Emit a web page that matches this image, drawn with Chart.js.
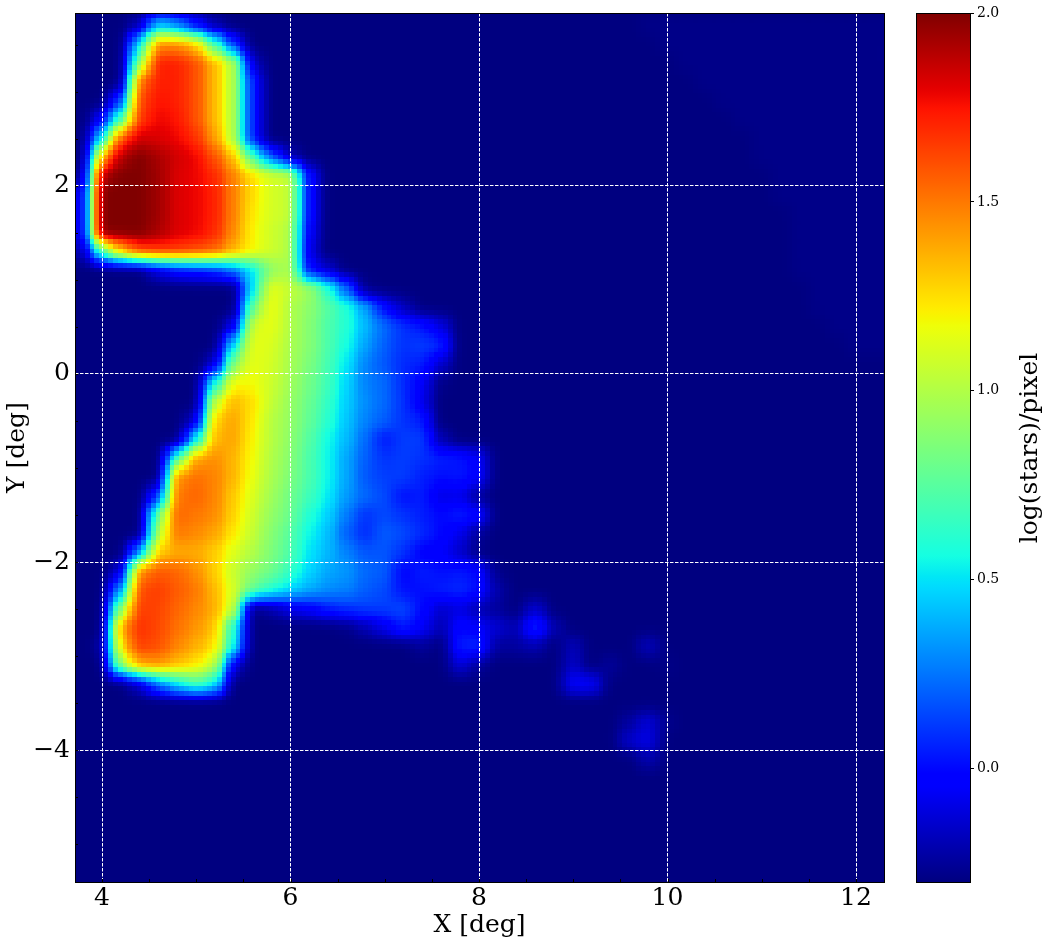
<!DOCTYPE html>
<html>
<head>
<meta charset="utf-8">
<style>
  body { margin: 0; background: #fff; }
  canvas { position: absolute; top: 0; }
</style>
<script src="https://cdn.jsdelivr.net/npm/chart.js@4"></script>
</head>
<body>
<canvas id="map" width="900" height="943" style="left:0"></canvas>
<canvas id="bar" width="148" height="943" style="left:900px"></canvas>
<script>
/* star density map + colorbar */

const xTicks = [4, 6, 8, 10, 12]
const yTicks = [2, 0, -2, -4]
const barTicks = [2.0, 1.5, 1.0, 0.5, 0.0]
const minorStep = 0.5

const vMin = -0.3
const vMax = 2.0

// cell centres: X = 3.8 + 0.2*col, Y = 3.7 - 0.2*row
const colCount = 43
const rowCount = 46

// log(stars)/pixel x 100. Columns not listed are background.
const logGrid = [
  [-30,-30,-30,-20,45,30,0,-22],
  [-30,-30,-30,50,145,145,130,70,10],
  [-30,-30,-30,90,172,172,160,135,100,-15],
  [-30,-30,-30,150,172,172,160,135,100,5],
  [-30,-30,10,160,175,172,160,135,100,5],
  [-30,-5,70,165,178,175,160,135,100,5],
  [-30,50,160,185,182,178,168,142,100,5],
  [-30,135,190,200,192,184,178,160,132,72,20,-20],
  [-25,190,205,205,194,182,178,170,148,125,110,105,0],
  [-8,200,205,205,194,182,178,172,148,125,110,105,0],
  [-8,205,205,205,194,182,178,172,148,122,110,105,0],
  [-8,200,200,200,192,182,178,170,145,120,108,100,-5],
  [-20,70,130,160,165,165,160,155,135,120,108,100,-10],
  [-30,-30,-30,-30,-10,0,5,10,25,50,90,100,0,-15],
  [-30,-30,-30,-30,-30,-30,-30,-30,-30,50,115,105,95,62,20,-28],
  [-30,-30,-30,-30,-30,-30,-30,-30,-30,80,118,100,90,75,60,35,0,-18],
  [-30,-30,-30,-30,-30,-30,-30,-30,-10,110,115,100,88,72,60,40,22,10,3,-10],
  [-30,-30,-30,-30,-30,-30,-30,-30,50,115,112,98,88,72,57,35,20,10,12,8],
  [-30,-30,-30,-30,-30,-30,-30,-15,90,115,110,97,85,70,50,28,18,8,5,-15],
  [-30,-30,-30,-30,-30,-30,-30,55,118,118,108,95,83,68,47,28,22,8,-5,-28],
  [-30,-30,-30,-30,-30,-30,-30,105,135,125,105,93,80,65,45,30,22,10,-8],
  [-30,-30,-30,-30,-30,-30,-15,130,140,122,102,92,78,62,43,28,20,10,5],
  [-30,-30,-30,-30,-30,-30,50,135,140,120,102,90,75,56,40,22,3,12,12,-20],
  [-30,-30,-30,-30,-30,70,140,145,135,118,100,88,72,55,36,20,10,12,10,5,3,-5],
  [-30,-30,-30,-30,-30,145,152,148,135,115,98,85,72,55,36,18,12,12,5,2,3,-3],
  [-30,-30,-30,-30,10,150,155,148,130,112,95,82,68,52,33,22,15,2,5,-10,-8,-25],
  [-30,-30,-30,-30,80,155,150,146,128,108,92,80,60,47,26,10,15,10,5,0,5,0],
  [-30,-30,-30,-30,100,150,146,140,122,105,88,75,55,42,20,8,20,15,8,0,-8,-25],
  [-30,-30,-30,30,130,138,138,130,112,100,85,72,50,40,28,18,18,10,-3,-5,-15,-28],
  [-30,-30,-15,145,158,155,145,130,105,92,82,65,48,37,33,22,20,-2,5,2,3,0,-28],
  [-30,-30,30,160,165,158,150,135,110,78,60,48,38,30,28,20,15,2,2,5,8,2,-22],
  [-30,-30,90,165,163,155,147,138,105,-30,-22,-10,-5,5,10,12,12,15,0,-15,-10,-20,-25,-30,-14],
  [-30,-30,140,168,162,152,143,132,60,-30,-30,-30,-30,-30,-28,-20,-8,5,-5,-20,0,-5,-14,-20,10,-20],
  [-30,-25,125,165,160,148,137,125,55,-30,-30,-30,-30,-30,-30,-30,-30,-30,-25,-30,5,8,-25,-24,-20],
  [-30,-30,90,138,142,132,122,105,-10,-30,-30,-30,-30,-30,-30,-30,-30,-30,-30,-30,-12,-25],
  [-30,-30,-30,-15,25,50,70,55],
  [], [], [], [], [], [], [], [], [], []
]

// faint patches lower right
const faintX = [9.0, 9.8, 9.0, 9.0, 9.2, 9.4, 10.0, 9.6, 9.8, 9.6, 9.8, 10.0, 9.8]
const faintY = [-2.9, -2.9, -3.1, -3.3, -3.3, -3.1, -3.1, -3.7, -3.7, -3.9, -3.9, -3.7, -4.1]
const faintV = [-18, -17, -16, -4, -4, -25, -28, -24, -12, -15, -9, -27, -20]

// first column of the slightly lighter region, top right, one entry per row
const lightStart = [30,31,32,33,34,35,36,36,37,37,38,38,38,38,39,39,40,41]
const lightValue = -28

const blurSigma = 6.5      // px
const blockDeg = 0.05      // the image is pixelated at this size

const serif = '"DejaVu Serif", serif'

// matplotlib jet
const jetR = [[0,0],[.35,0],[.66,1],[.89,1],[1,.5]]
const jetG = [[0,0],[.125,0],[.375,1],[.64,1],[.91,0],[1,0]]
const jetB = [[0,.5],[.11,1],[.34,1],[.65,0],[1,0]]
function seg(s, t) {
  for (let i = 1; i < s.length; i++) {
    if (t <= s[i][0]) return s[i-1][1] + (s[i][1]-s[i-1][1]) * (t-s[i-1][0]) / (s[i][0]-s[i-1][0])
  }
  return s[s.length-1][1]
}
const jet = t => [seg(jetR,t), seg(jetG,t), seg(jetB,t)].map(c => Math.round(c*255))

function cellValue(r, c) {
  const row = logGrid[r] || []
  if (row[c] !== undefined) return row[c]
  if (r < lightStart.length && c >= lightStart[r]) return lightValue
  return -30
}

const cells = []
for (let r = 0; r < rowCount; r++) {
  for (let c = 0; c < colCount; c++) {
    cells.push({ x: 3.8 + 0.2*c, y: 3.7 - 0.2*r, v: cellValue(r, c) / 100 })
  }
}
faintX.forEach((x, i) => {
  const c = Math.round((x - 3.8) / 0.2)
  const r = Math.round((3.7 - faintY[i]) / 0.2)
  cells[r*colCount + c].v = faintV[i] / 100
})

// cells are painted as grey levels, then the plugin smooths and colours them like imshow does
function grey(v) {
  const g = Math.round((v - vMin) / (vMax - vMin) * 255)
  return `rgb(${g},${g},${g})`
}

const imshowPlugin = {
  id: 'imshow',
  afterDatasetsDraw(chart) {
    const a = chart.chartArea
    const L = Math.round(a.left), T = Math.round(a.top)
    const W = Math.round(a.right - a.left), H = Math.round(a.bottom - a.top)
    const img = chart.ctx.getImageData(L, T, W, H)
    const src = new Float32Array(W*H)
    for (let i = 0; i < W*H; i++) src[i] = img.data[i*4]

    const rad = Math.ceil(blurSigma*3)
    const kern = []
    let sum = 0
    for (let k = -rad; k <= rad; k++) { const w = Math.exp(-k*k/(2*blurSigma*blurSigma)); kern.push(w); sum += w }
    const clamp = (n, m) => n < 0 ? 0 : n >= m ? m-1 : n
    const tmp = new Float32Array(W*H)
    for (let y = 0; y < H; y++) for (let x = 0; x < W; x++) {
      let s = 0
      for (let k = -rad; k <= rad; k++) s += kern[k+rad] * src[y*W + clamp(x+k, W)]
      tmp[y*W+x] = s/sum
    }
    const out = new Float32Array(W*H)
    for (let y = 0; y < H; y++) for (let x = 0; x < W; x++) {
      let s = 0
      for (let k = -rad; k <= rad; k++) s += kern[k+rad] * tmp[clamp(y+k, H)*W + x]
      out[y*W+x] = s/sum
    }

    const sx = chart.scales.x, sy = chart.scales.y
    const bw = Math.abs(sx.getPixelForValue(blockDeg) - sx.getPixelForValue(0))
    const bh = Math.abs(sy.getPixelForValue(blockDeg) - sy.getPixelForValue(0))
    for (let y = 0; y < H; y++) {
      const py = clamp(Math.floor((Math.floor(y/bh) + .5) * bh), H)
      for (let x = 0; x < W; x++) {
        const px = clamp(Math.floor((Math.floor(x/bw) + .5) * bw), W)
        const col = jet(Math.min(1, out[py*W+px]/255))
        const i = (y*W+x)*4
        img.data[i] = col[0]; img.data[i+1] = col[1]; img.data[i+2] = col[2]; img.data[i+3] = 255
      }
    }
    chart.ctx.putImageData(img, L, T)
  }
}

const framePlugin = {
  id: 'frame',
  afterDraw(chart) {
    const { ctx, chartArea: a, scales } = chart
    ctx.save()
    ctx.strokeStyle = '#000'
    ctx.lineWidth = 1
    ctx.strokeRect(a.left + .5, a.top + .5, a.right - a.left, a.bottom - a.top)
    if (scales.x && scales.x.options.display) {
      ctx.beginPath()
      for (let v = 4; v <= scales.x.max; v += minorStep) {
        const p = Math.round(scales.x.getPixelForValue(v)) + .5
        ctx.moveTo(p, a.bottom); ctx.lineTo(p, a.bottom - 3)
      }
      for (let v = -5; v <= scales.y.max; v += minorStep) {
        const p = Math.round(scales.y.getPixelForValue(v)) + .5
        ctx.moveTo(a.left, p); ctx.lineTo(a.left + 3, p)
      }
      ctx.stroke()
    }
    ctx.restore()
  }
}

// the colorbar label reads bottom to top, which a right hand axis title does not do
const barLabelPlugin = {
  id: 'barLabel',
  afterDraw(chart) {
    const ctx = chart.ctx
    ctx.save()
    ctx.translate(130, 448)
    ctx.rotate(-Math.PI/2)
    ctx.font = `25px ${serif}`
    ctx.fillStyle = '#000'
    ctx.textAlign = 'center'
    ctx.textBaseline = 'middle'
    ctx.fillText('log(stars)/pixel', 0, 0)
    ctx.restore()
  }
}

const gridOpts = { color: '#fff', lineWidth: 1, drawTicks: false, z: 1 }

new Chart(document.getElementById('map'), {
  type: 'scatter',
  data: {
    datasets: [{
      data: cells,
      pointStyle: 'rect',
      pointBorderWidth: 0,
      pointBackgroundColor: ctx => grey(ctx.raw.v),
      pointRadius: ctx => {
        const s = ctx.chart.scales.x
        if (!s) return 14
        return (Math.abs(s.getPixelForValue(0.2) - s.getPixelForValue(0)) / 2 + 1) * Math.SQRT2
      },
      pointHoverRadius: 0
    }]
  },
  options: {
    responsive: false,
    animation: false,
    events: [],
    layout: { padding: { top: 13, right: 16 } },
    plugins: { legend: { display: false }, tooltip: { enabled: false } },
    scales: {
      x: {
        type: 'linear',
        min: 3.7135,
        max: 12.297,
        afterFit: s => { s.height = 61; s.paddingLeft = 0; s.paddingRight = 0 },
        afterBuildTicks: s => { s.ticks = xTicks.map(value => ({ value })) },
        grid: gridOpts,
        border: { display: false, dash: [3.5, 1.5] },
        ticks: { color: '#000', padding: 1, maxRotation: 0, autoSkip: false, font: { family: serif, size: 25 } },
        title: { display: true, text: 'X [deg]', color: '#000', font: { family: serif, size: 25 }, padding: { top: 0, bottom: 3 } }
      },
      y: {
        type: 'linear',
        min: -5.399,
        max: 3.836,
        afterFit: s => { s.width = 75; s.paddingTop = 0; s.paddingBottom = 0 },
        afterBuildTicks: s => { s.ticks = yTicks.map(value => ({ value })) },
        grid: gridOpts,
        border: { display: false, dash: [3.5, 1.5] },
        ticks: {
          color: '#000', padding: 5, autoSkip: false, font: { family: serif, size: 25 },
          callback: v => String(v).replace('-', '\u2212')
        },
        title: { display: true, text: 'Y [deg]', color: '#000', font: { family: serif, size: 25 }, padding: { top: 2, bottom: 0 } }
      }
    }
  },
  plugins: [imshowPlugin, framePlugin]
})

new Chart(document.getElementById('bar'), {
  type: 'bar',
  data: {
    labels: ['log(stars)/pixel'],
    datasets: [{
      data: [[vMin, vMax]],
      barPercentage: 1,
      categoryPercentage: 1,
      borderWidth: 0,
      backgroundColor: ctx => {
        const a = ctx.chart.chartArea
        if (!a) return '#000'
        const g = ctx.chart.ctx.createLinearGradient(0, a.bottom, 0, a.top)
        for (let i = 0; i <= 128; i++) {
          const c = jet(i/128)
          g.addColorStop(i/128, `rgb(${c[0]},${c[1]},${c[2]})`)
        }
        return g
      }
    }]
  },
  options: {
    responsive: false,
    animation: false,
    events: [],
    layout: { padding: { top: 13, left: 16, bottom: 61 } },
    plugins: { legend: { display: false }, tooltip: { enabled: false } },
    scales: {
      x: { display: false },
      y: {
        position: 'right',
        min: vMin,
        max: vMax,
        afterFit: s => { s.width = 78; s.paddingTop = 0; s.paddingBottom = 0 },
        afterBuildTicks: s => { s.ticks = barTicks.map(value => ({ value })) },
        grid: { drawOnChartArea: false, color: '#000', tickLength: 4 },
        border: { display: false },
        ticks: { color: '#000', padding: 3, autoSkip: false, font: { family: serif, size: 14 }, callback: v => v.toFixed(1) }
      }
    }
  },
  plugins: [framePlugin, barLabelPlugin]
})
</script>
</body>
</html>
